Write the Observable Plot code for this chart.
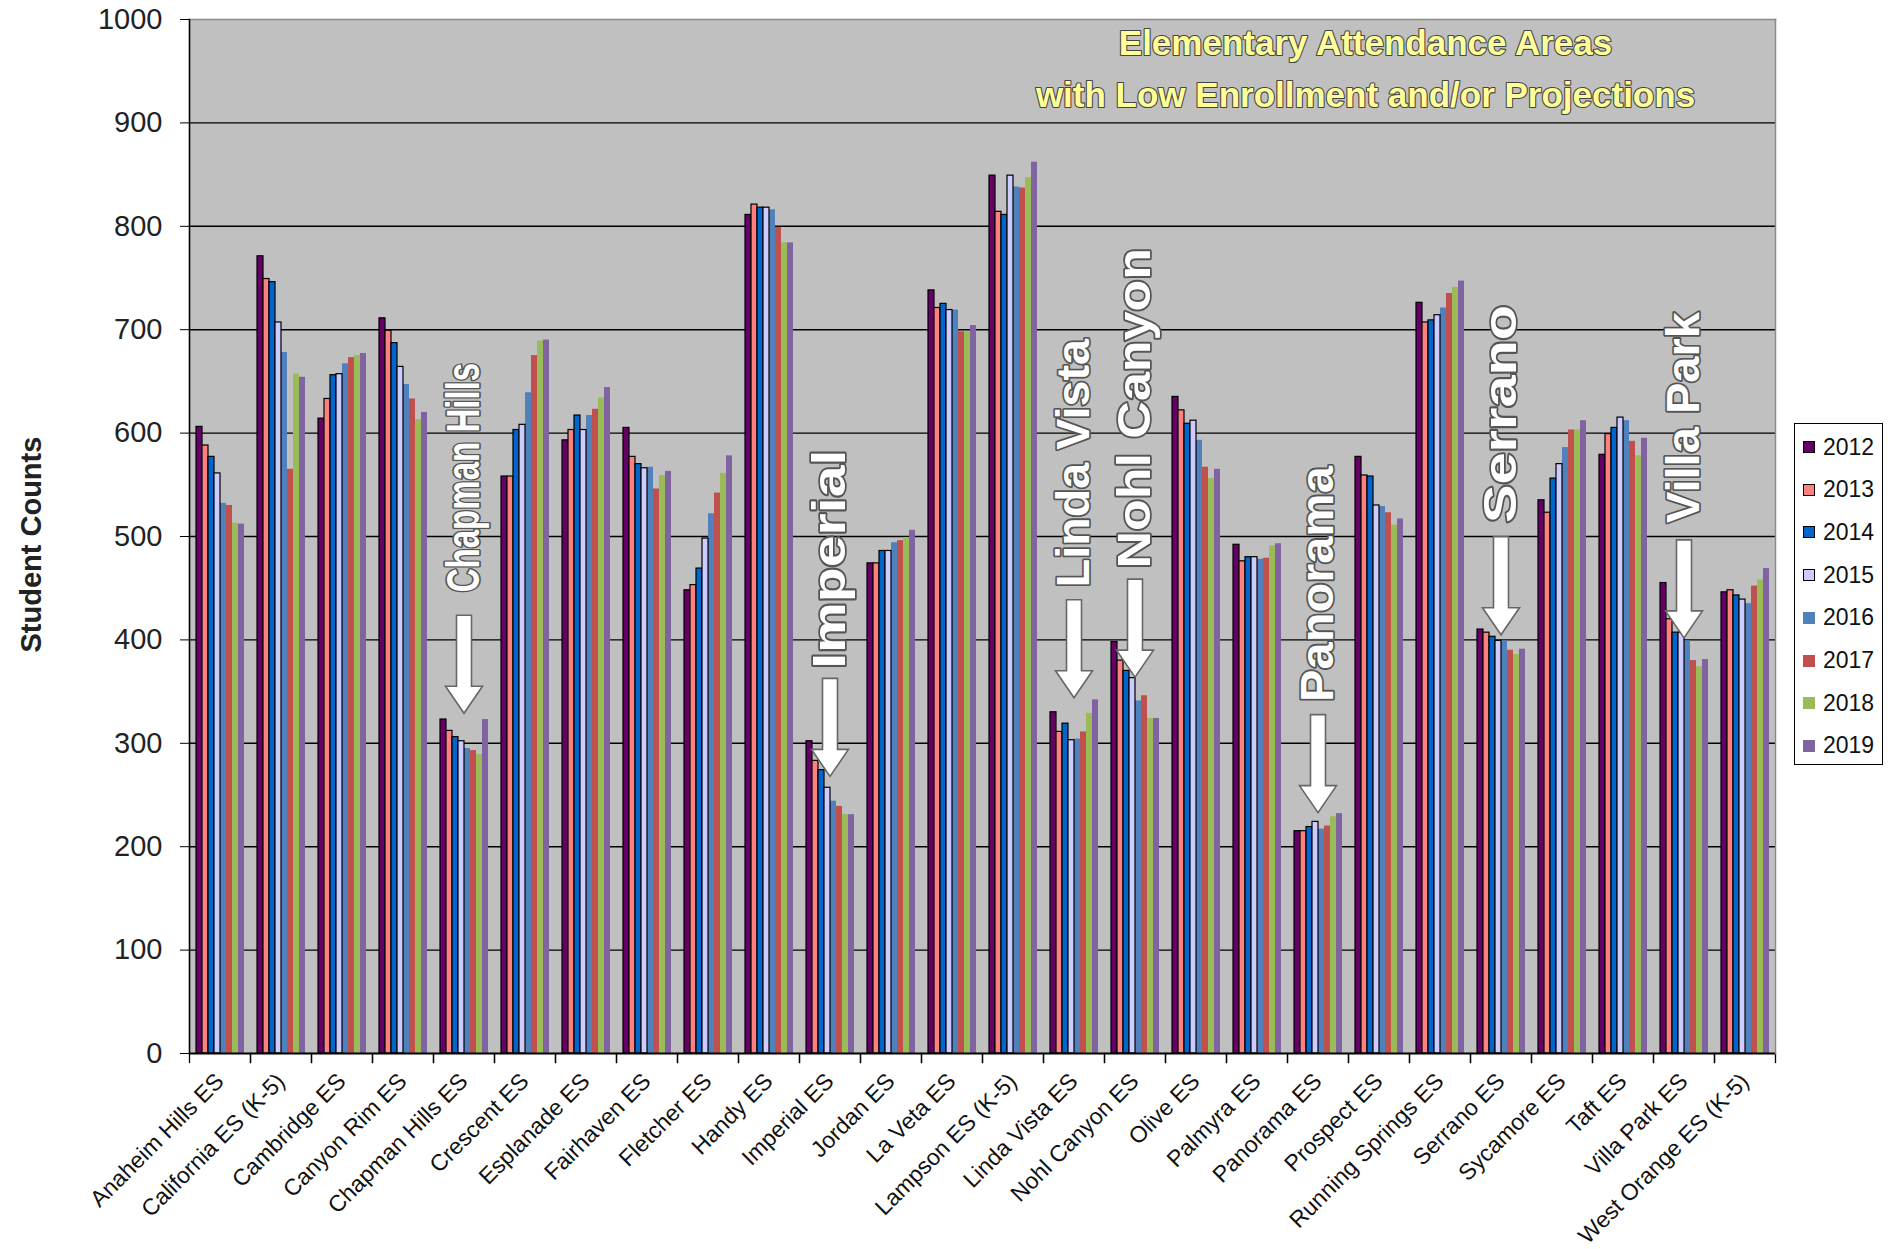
<!DOCTYPE html>
<html><head><meta charset="utf-8">
<script src="https://cdn.jsdelivr.net/npm/d3@7"></script>
<script src="https://cdn.jsdelivr.net/npm/@observablehq/plot@0.6"></script>
<style>
body{margin:0;background:#fff;}
#wrap{position:relative;width:1896px;height:1249px;font-family:"Liberation Sans",Arial,sans-serif;}
#legend{position:absolute;left:1794px;top:423px;width:89px;height:342px;border:1.5px solid #000;background:#fff;box-sizing:border-box;}
.item{position:absolute;left:8px;height:24px;display:flex;align-items:center;font-size:23px;color:#111;}
.sw{width:12px;height:12px;margin-right:8px;box-sizing:border-box;}
</style></head><body><div id="wrap"></div>
<script>
const schools = ["Anaheim Hills ES","California ES (K-5)","Cambridge ES","Canyon Rim ES","Chapman Hills ES","Crescent ES","Esplanade ES","Fairhaven ES","Fletcher ES","Handy ES","Imperial ES","Jordan ES","La Veta ES","Lampson ES (K-5)","Linda Vista ES","Nohl Canyon ES","Olive ES","Palmyra ES","Panorama ES","Prospect ES","Running Springs ES","Serrano ES","Sycamore ES","Taft ES","Villa Park ES","West Orange ES (K-5)"];
const years = ["2012","2013","2014","2015","2016","2017","2018","2019"];
const colors = ["#660066","#FF8080","#0066CC","#CCCCFF","#4F81BD","#C0504D","#9BBB59","#8064A2"];
const outlinedYears = ["2012","2013","2014","2015"];

const v2012 = [606,771,614,711,323,558,593,605,448,811,302,474,738,849,330,398,635,492,215,577,726,410,535,579,455,446];
const v2013 = [588,749,633,699,312,558,603,577,453,821,283,474,721,814,311,380,622,476,215,559,707,407,523,599,420,448];
const v2014 = [577,746,656,687,306,603,617,570,469,818,274,486,725,811,319,370,609,480,219,558,709,403,556,605,407,443];
const v2015 = [561,707,657,664,302,608,603,566,498,818,257,486,719,849,303,363,612,480,224,530,714,399,570,615,407,439];
const v2016 = [532,678,667,647,295,639,617,567,522,816,244,494,719,838,304,341,593,478,217,529,721,399,586,612,399,435];
const v2017 = [530,565,673,633,293,675,623,546,542,799,239,496,698,837,311,346,567,479,220,523,735,390,603,592,380,452];
const v2018 = [513,657,675,613,289,689,634,559,561,784,231,499,698,847,329,324,556,491,229,511,741,386,603,578,374,458];
const v2019 = [512,654,677,620,323,690,644,563,578,784,231,506,704,862,342,324,565,493,232,517,747,391,612,595,381,469];
const series = [v2012,v2013,v2014,v2015,v2016,v2017,v2018,v2019];

const yTicks = [0,100,200,300,400,500,600,700,800,900,1000];
const gridTicks = [100,200,300,400,500,600,700,800,900];

const titleText = "Elementary Attendance Areas\nwith Low Enrollment and/or Projections";
const yLabel = "Student Counts";

const annotSchools = ["Chapman Hills ES","Imperial ES","Linda Vista ES","Nohl Canyon ES","Panorama ES","Serrano ES","Villa Park ES"];
const annotLabels = ["Chapman Hills","Imperial","Linda Vista","Nohl Canyon","Panorama","Serrano","Villa Park"];
const annotTextBottom = [446,372,451,469,340,513,513];
const annotTextTop = [668,584,691,779,568,724,717];
const annotArrowTip = [329,268,344,364,233,405,402];

const rows = schools.flatMap((s, i) => years.map((y, j) => ({school: s, year: y, value: series[j][i]})));
const annots = annotSchools.map((s, i) => ({school: s, label: annotLabels[i], bottom: annotTextBottom[i], top: annotTextTop[i], tip: annotArrowTip[i]}));

const arrowSymbol = {draw(ctx) {
  const sw = 7.5, hw = 18.5, hh = 27, L = 98;
  ctx.moveTo(0, 0); ctx.lineTo(-hw, -hh); ctx.lineTo(-sw, -hh); ctx.lineTo(-sw, -L);
  ctx.lineTo(sw, -L); ctx.lineTo(sw, -hh); ctx.lineTo(hw, -hh); ctx.closePath();
}};

const font = "Liberation Sans, Arial, sans-serif";
const H = 1249, mT = 19, mB = 196;
const plotH = H - mT - mB;

const plot = Plot.plot({
  width: 1896, height: H,
  marginTop: mT, marginRight: 118, marginBottom: mB, marginLeft: 185,
  style: {fontFamily: font, background: "transparent", overflow: "visible"},
  fx: {domain: schools, padding: 0, label: null},
  x: {domain: years, paddingInner: 0, paddingOuter: 0.68, axis: null},
  y: {domain: [0, 1000], label: null},
  color: {domain: years, range: colors},
  marks: [
    Plot.frame({facet: "super", fill: "#c0c0c0"}),
    Plot.ruleY(gridTicks, {stroke: "#000", strokeWidth: 1.4}),
    Plot.barY(rows.filter(d => !outlinedYears.includes(d.year)), {fx: "school", x: "year", y: "value", fill: "year"}),
    Plot.barY(rows.filter(d => outlinedYears.includes(d.year)), {fx: "school", x: "year", y: "value", fill: "year", stroke: "#000", strokeWidth: 1.2}),
    Plot.ruleY([0], {stroke: "#000", strokeWidth: 2}),
    Plot.frame({anchor: "left", stroke: "#000", strokeWidth: 1.3, insetTop: plotH, insetBottom: -9}),
    Plot.frame({anchor: "right", stroke: "#000", strokeWidth: 1.3, insetTop: plotH, insetBottom: -9}),
    Plot.frame({facet: "super", anchor: "top", stroke: "#8a8a8a", strokeWidth: 1.5}),
    Plot.frame({facet: "super", anchor: "right", stroke: "#8a8a8a", strokeWidth: 1.5}),
    Plot.frame({facet: "super", anchor: "left", stroke: "#000", strokeWidth: 1.6}),
    Plot.axisY({ticks: yTicks, tickFormat: d => String(d), tickSize: 9, tickPadding: 18, fontSize: 29, fill: "#222", label: null}),
    Plot.axisFx({anchor: "bottom", tickSize: 0, tickPadding: 24, tickRotate: -45, fontSize: 23, fill: "#111", label: null}),
    Plot.dot(annots, {fx: "school", y: "tip", symbol: arrowSymbol, fill: "white", stroke: "#666", strokeWidth: 1.6}),
    Plot.text(annots, {fx: "school", y: "bottom", text: "label", rotate: -90, textAnchor: "start", lineAnchor: "middle",
      fontSize: 46, fontWeight: "bold", fill: "white", stroke: "#555", strokeWidth: 3.5, paintOrder: "stroke"}),
    Plot.text([titleText], {facet: "super", text: d => d, frameAnchor: "top-right", dx: -410, dy: -2, textAnchor: "middle", lineAnchor: "top",
      lineHeight: 1.49, fontSize: 35, fontWeight: "bold", fill: "#FFFF99", stroke: "#444", strokeWidth: 2.2, paintOrder: "stroke"}),
    Plot.text([yLabel], {facet: "super", text: d => d, frameAnchor: "left", dx: -158, dy: 116, rotate: -90, fontSize: 29, fontWeight: "bold", fill: "#222"})
  ]
});

const wrap = document.getElementById("wrap");
wrap.appendChild(plot);

const ys = plot.scale("y");
plot.querySelectorAll("text").forEach(t => {
  const a = annots.find(a => a.label === t.textContent.trim());
  if (a) {
    t.setAttribute("textLength", Math.abs(ys.apply(a.top) - ys.apply(a.bottom)));
    t.setAttribute("lengthAdjust", "spacingAndGlyphs");
  }
});

const legend = document.createElement("div");
legend.id = "legend";
years.forEach((y, i) => {
  const it = document.createElement("div");
  it.className = "item";
  it.style.top = (11 + i * 42.7) + "px";
  const sw = document.createElement("span");
  sw.className = "sw";
  sw.style.background = colors[i];
  sw.style.border = outlinedYears.includes(y) ? "1.5px solid #000" : "none";
  it.appendChild(sw);
  it.appendChild(document.createTextNode(y));
  legend.appendChild(it);
});
wrap.appendChild(legend);
</script></body></html>
